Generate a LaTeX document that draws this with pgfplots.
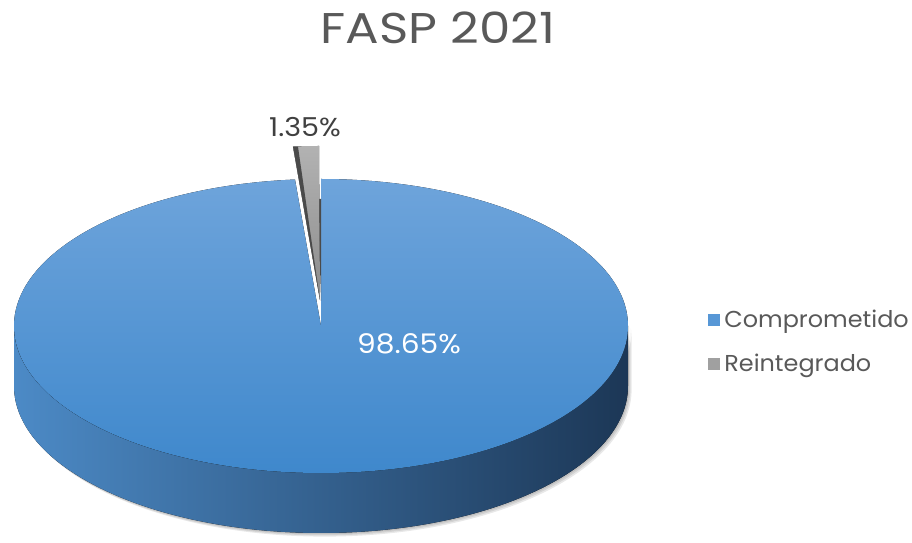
\documentclass[border=0pt]{standalone}
\usepackage{fontspec}
\setmainfont[FakeStretch=1.1]{Poppins}
\newfontfamily\titlefont[FakeStretch=1.16]{Poppins}
\newfontfamily\legfont[FakeStretch=1.04]{Poppins}
\usepackage{pgfplots}
\usepackage{pgfplotstable}
\pgfplotsset{compat=1.18}

\definecolor{titlegray}{HTML}{595959}
\definecolor{labeldark}{HTML}{404040}
\definecolor{topA}{HTML}{6EA4DB}
\definecolor{topB}{HTML}{3F88CC}
\definecolor{sideL}{HTML}{4C8AC6}
\definecolor{sideM}{HTML}{2B5682}
\definecolor{sideR}{HTML}{1C3756}
\definecolor{greyA}{HTML}{B2B2B2}
\definecolor{greyB}{HTML}{8C8C8C}
\definecolor{greyD}{HTML}{4A4A4A}
\definecolor{legblue}{HTML}{5797D6}
\definecolor{leggrey}{HTML}{A0A0A0}

\pgfplotstableread{
label value
Comprometido 98.65
Reintegrado 1.35
}\piedata

\begin{document}%
\pgfplotstablegetelem{0}{value}\of\piedata \let\vA\pgfplotsretval%
\pgfplotstablegetelem{1}{value}\of\piedata \let\vB\pgfplotsretval%
\pgfmathsetmacro{\aEnd}{90-3.6*\vA}%
\pgfmathsetmacro{\bEnd}{90+3.6*\vB}%
\begin{tikzpicture}
\begin{axis}[
    x=0.5pt, y=0.5pt,
    xmin=0, xmax=912, ymin=0, ymax=542,
    hide axis, clip=false,
    legend style={at={(axis cs:702,200)}, anchor=west, draw=none, fill=none,
        font=\legfont\fontsize{11.5}{13}\selectfont, text=titlegray, row sep=7.5pt},
    legend cell align=left,
    legend image code/.code={\fill[#1, draw=none] (0pt,-3pt) rectangle (6pt,3pt);},
]
\addlegendimage{fill=legblue}
\addlegendentry{Comprometido}
\addlegendimage{fill=leggrey}
\addlegendentry{Reintegrado}

% soft shadow
\pgfplotsinvokeforeach{1,2,3}{
  \fill[black, opacity=0.09] ([xshift=#1*0.6pt, yshift=-#1*0.6pt]axis cs:14,216)
    arc[start angle=180, end angle=360, x radius=153.5pt, y radius=73.5pt]
    -- ++(0,-30pt)
    arc[start angle=0, end angle=-180, x radius=153.5pt, y radius=73.5pt] -- cycle;
}
% side of main slice
\fill[left color=sideL, middle color=sideM, right color=sideR] (axis cs:14,216)
    arc[start angle=180, end angle=360, x radius=153.5pt, y radius=73.5pt]
    -- ++(0,-30pt)
    arc[start angle=0, end angle=-180, x radius=153.5pt, y radius=73.5pt] -- cycle;
% top of main slice
\fill[top color=topA, bottom color=topB] (axis cs:321,363)
    arc[start angle=90, end angle=\aEnd, x radius=153.5pt, y radius=73.5pt]
    -- (axis cs:321,216) -- cycle;
% cut face seen in the gap
\fill[greyD] (axis cs:318,343) -- (axis cs:321,343) -- (axis cs:321,241) -- cycle;
% exploded small slice
\fill[top color=greyA, bottom color=greyB] (axis cs:319,396)
    arc[start angle=90, end angle=\bEnd, x radius=153.5pt, y radius=73.5pt]
    coordinate (P2) -- (axis cs:320,242) -- cycle;
\fill[greyD] (axis cs:320,242) -- (P2) -- ([xshift=2.5pt]P2) -- cycle;

\node[text=white, font=\fontsize{13.5}{15}\selectfont] at (axis cs:409,198) {98.65\%};
\node[text=labeldark, font=\fontsize{13}{15}\selectfont] at (axis cs:305,415) {1.35\%};
\node[text=titlegray, font=\titlefont\fontsize{21.5}{25}\selectfont] at (axis cs:438,514) {FASP 2021};
\end{axis}
\pgfresetboundingbox
\useasboundingbox (0,0) rectangle (456pt,271pt);
\end{tikzpicture}
\end{document}
